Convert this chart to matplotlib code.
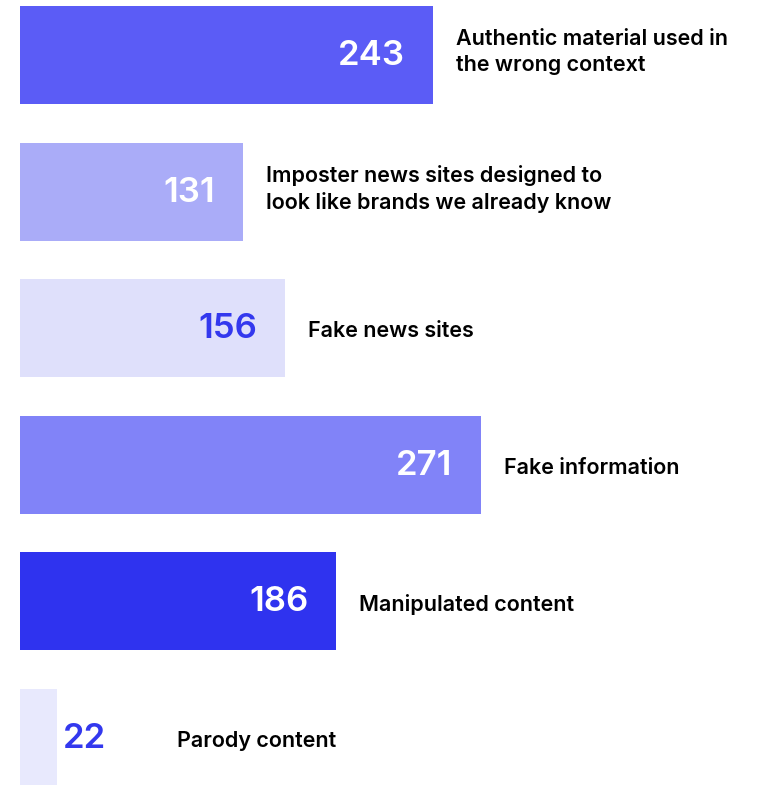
import matplotlib.pyplot as plt

plt.rcParams['font.family'] = ['Inter', 'DejaVu Sans']

# categories, counts and colours, top to bottom
labels = [
    "Authentic material used in\nthe wrong context",
    "Imposter news sites designed to\nlook like brands we already know",
    "Fake news sites",
    "Fake information",
    "Manipulated content",
    "Parody content",
]
counts = [243, 131, 156, 271, 186, 22]
bar_colors = ["#5B5CF6", "#AAACF8", "#DFE0FB", "#8183F8", "#2F33EF", "#E8E9FD"]
value_colors = ["white", "white", "#3338EE", "white", "white", "#3338EE"]

W, H = 761, 785
fig = plt.figure(figsize=(W / 100, H / 100), dpi=100)
ax = fig.add_axes([0, 0, 1, 1])

px_per_unit = 1.70   # horizontal scale, pixels per count
left_px = 20
pitch = 136.6        # vertical distance between bars in pixels
first_center = 55
bar_h = 98 / pitch

pos = list(range(len(counts)))
ax.barh(pos, counts, height=bar_h, color=bar_colors, edgecolor="none")

ax.set_xlim(-left_px / px_per_unit, (W - left_px) / px_per_unit)
ax.set_ylim((H - first_center) / pitch, -first_center / pitch)
ax.axis("off")

PT = 0.72  # points per pixel at 100 dpi
for i, (v, lab) in enumerate(zip(counts, labels)):
    if v > 60:
        ax.annotate(str(v), (v, i), xytext=(-28 * PT, -1 * PT), textcoords="offset points",
                    ha="right", va="center", fontsize=25, fontweight="semibold",
                    color=value_colors[i])
        lab_off = 23
    else:
        # too short for the number to sit inside
        ax.annotate(str(v), (v, i), xytext=(5 * PT, -1 * PT), textcoords="offset points",
                    ha="left", va="center", fontsize=25, fontweight="semibold",
                    color=value_colors[i])
        lab_off = 120
    nl = "\n" in lab
    ax.annotate(lab, (v, i), xytext=(lab_off * PT, (3 if nl else -3) * PT),
                textcoords="offset points",
                ha="left", va="center", fontsize=15.5, fontweight="semibold",
                color="black", linespacing=1.35)

fig.savefig("out.png", dpi=100)
